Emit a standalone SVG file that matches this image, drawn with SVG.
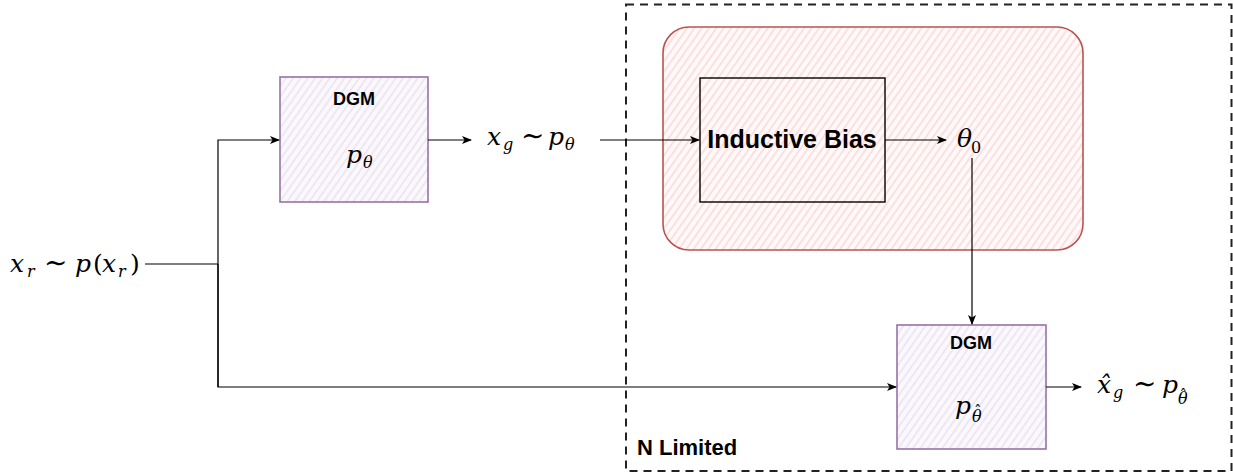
<svg xmlns="http://www.w3.org/2000/svg" width="1233" height="474" viewBox="0 0 1233 474">
<defs>
<style>
.m{font-family:"DejaVu Serif","Liberation Serif",serif;font-style:italic;font-size:25px;fill:#000}
.u{font-style:normal}
.t{font-style:normal;font-size:28px}
.s{font-size:16px}
.hat{font-style:normal;font-size:15px}
.b{font-family:"Liberation Sans",Arial,sans-serif;font-weight:bold;fill:#000}
.ln{fill:none;stroke:#000;stroke-width:1.2}
</style>
<pattern id="hp" width="6" height="6" patternUnits="userSpaceOnUse" patternTransform="rotate(-55)">
<rect width="6" height="6" fill="#fbf8fd"/>
<line x1="0" y1="3" x2="6" y2="3" stroke="#e6dcec" stroke-width="1.2"/>
</pattern>
<pattern id="hr" width="6" height="6" patternUnits="userSpaceOnUse" patternTransform="rotate(-55)">
<rect width="6" height="6" fill="#fff9f9"/>
<line x1="0" y1="3" x2="6" y2="3" stroke="#f9d3d1" stroke-width="1.3"/>
</pattern>
<marker id="ar" markerWidth="10" markerHeight="8" refX="9" refY="4" orient="auto" markerUnits="userSpaceOnUse">
<path d="M0,0 L10,4 L0,8 L2.5,4 Z" fill="#000"/>
</marker>
</defs>

<g id="limited">
<rect x="626" y="4.5" width="605.5" height="466.5" fill="none" stroke="#222" stroke-width="2" stroke-dasharray="8,6"/>
<text class="b" x="637" y="455" font-size="22">N Limited</text>
</g>

<g id="bias-region">
<rect x="663" y="27" width="420" height="223" rx="26" ry="26" fill="url(#hr)" stroke="#b85450" stroke-width="1.6"/>
</g>

<g id="dgm1">
<rect x="280" y="77" width="148" height="125" fill="url(#hp)" stroke="#9673a6" stroke-width="1.6"/>
<text class="b" x="354" y="105" font-size="18" text-anchor="middle">DGM</text>
<text class="m" x="346" y="163" font-size="28">p<tspan class="s" x="363" y="168">θ</tspan></text>
</g>

<g id="inductive-bias">
<rect x="700" y="78" width="185" height="124" fill="none" stroke="#000" stroke-width="1.4"/>
<text class="b" x="792" y="148" font-size="25" text-anchor="middle">Inductive Bias</text>
</g>

<g id="dgm2">
<rect x="897" y="325" width="149" height="124" fill="url(#hp)" stroke="#9673a6" stroke-width="1.6"/>
<text class="b" x="971" y="349" font-size="18" text-anchor="middle">DGM</text>
<text class="m" x="955" y="414" font-size="28">p<tspan class="s" x="972" y="422">θ</tspan><tspan class="hat" x="974" y="416">ˆ</tspan></text>
</g>

<g id="labels">
<text class="m" y="272"><tspan x="10">x</tspan><tspan class="s" x="27" y="277">r</tspan><tspan class="t" x="44" y="272">∼</tspan><tspan x="75">p</tspan><tspan class="u" x="93">(</tspan><tspan x="102">x</tspan><tspan class="s" x="118" y="277">r</tspan><tspan class="u" x="130" y="272">)</tspan></text>
<text class="m" y="145"><tspan x="487">x</tspan><tspan class="s" x="503" y="150">g</tspan><tspan class="t" x="521" y="145">∼</tspan><tspan x="548">p</tspan><tspan class="s" x="565" y="150">θ</tspan></text>
<text class="m" y="147"><tspan x="957">θ</tspan><tspan class="u s" x="971" y="153">0</tspan></text>
<text class="m" y="393"><tspan x="1097">x̂</tspan><tspan class="s" x="1113" y="398">g</tspan><tspan class="t" x="1133" y="393">∼</tspan><tspan x="1162">p</tspan><tspan class="s" x="1178" y="404" font-size="15">θ</tspan><tspan class="hat" x="1179.5" y="400" font-size="14">ˆ</tspan></text>
</g>

<g id="connectors">
<polyline class="ln" points="145,264 218,264"/>
<polyline class="ln" points="218,387 218,140 279,140" marker-end="url(#ar)"/>
<polyline class="ln" points="218,264 218,387 896,387" marker-end="url(#ar)"/>
<polyline class="ln" points="428,140 471,140" marker-end="url(#ar)"/>
<polyline class="ln" points="600,140 699,140" marker-end="url(#ar)"/>
<polyline class="ln" points="885,140 946,140" marker-end="url(#ar)"/>
<polyline class="ln" points="972,158 972,324" marker-end="url(#ar)"/>
<polyline class="ln" points="1046,387 1081,387" marker-end="url(#ar)"/>
</g>
</svg>
